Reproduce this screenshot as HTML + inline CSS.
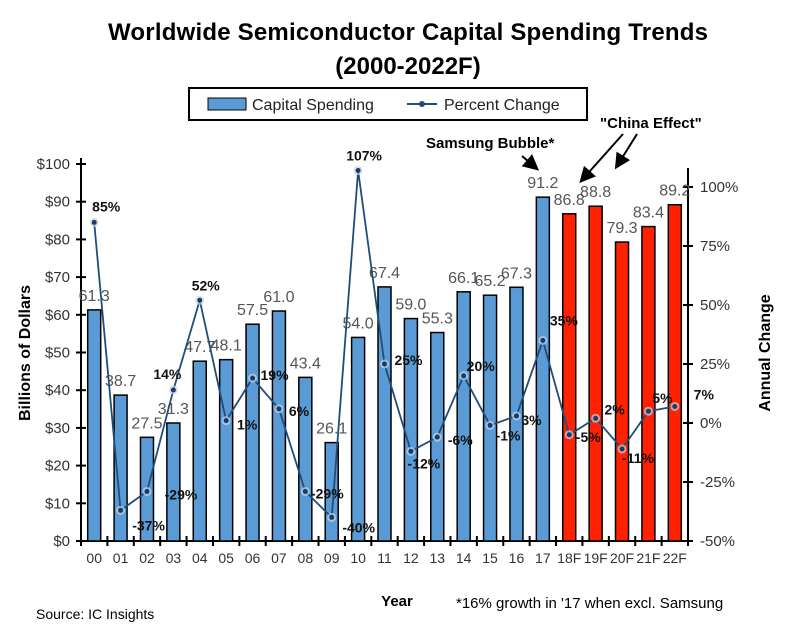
<!DOCTYPE html>
<html><head><meta charset="utf-8"><style>
body{margin:0;background:#fff;width:800px;height:634px;overflow:hidden}
svg text{font-family:"Liberation Sans",Arial,sans-serif}
</style></head><body>
<svg id="chart" width="800" height="634" xmlns="http://www.w3.org/2000/svg">
<defs><marker id="ah" markerWidth="8" markerHeight="8" refX="6" refY="4" orient="auto"><path d="M0,0 L8,4 L0,8 z" fill="#000"/></marker></defs>
<text x="408" y="40" text-anchor="middle" font-size="24" font-weight="bold" textLength="600">Worldwide Semiconductor Capital Spending Trends</text>
<text x="408" y="74" text-anchor="middle" font-size="24" font-weight="bold">(2000-2022F)</text>
<g>
<rect x="189" y="88" width="398" height="32" fill="#fff" stroke="#000" stroke-width="2"/>
<g><rect x="208" y="98" width="38" height="12" fill="#5b9bd5" stroke="#000"/><text x="252" y="110" font-size="16" fill="#222">Capital Spending</text></g>
<g><line x1="407" y1="104" x2="437" y2="104" stroke="#1f4e79" stroke-width="2"/><circle cx="422" cy="104" r="3" fill="#1f4e79"/><text x="444" y="110" font-size="16" fill="#222">Percent Change</text></g>
</g>
<text x="426" y="148" font-size="15" font-weight="bold">Samsung Bubble*</text>
<line x1="522" y1="156" x2="536" y2="168" stroke="#000" stroke-width="2" marker-end="url(#ah)"/>
<text x="600" y="128" font-size="15" font-weight="bold">"China Effect"</text>
<line x1="623" y1="134" x2="582" y2="180" stroke="#000" stroke-width="2" marker-end="url(#ah)"/>
<line x1="637" y1="134" x2="617" y2="166" stroke="#000" stroke-width="2" marker-end="url(#ah)"/>
<text transform="translate(30,353) rotate(-90)" text-anchor="middle" font-size="16" font-weight="bold">Billions of Dollars</text>
<text transform="translate(770,353) rotate(-90)" text-anchor="middle" font-size="16" font-weight="bold">Annual Change</text>
<text x="397" y="606" text-anchor="middle" font-size="15" font-weight="bold">Year</text>
<text x="456" y="608" font-size="15">*16% growth in '17 when excl. Samsung</text>
<text x="36" y="619" font-size="14">Source: IC Insights</text>
<g id="plot"></g>
</svg>
<script>
const categories=["00","01","02","03","04","05","06","07","08","09","10","11","12","13","14","15","16","17","18F","19F","20F","21F","22F"];
const spending=[61.3,38.7,27.5,31.3,47.7,48.1,57.5,61.0,43.4,26.1,54.0,67.4,59.0,55.3,66.1,65.2,67.3,91.2,86.8,88.8,79.3,83.4,89.2];
const pctChange=[85,-37,-29,14,52,1,19,6,-29,-40,107,25,-12,-6,20,-1,3,35,-5,2,-11,5,7];
const forecastFlags=[0,0,0,0,0,0,0,0,0,0,0,0,0,0,0,0,0,0,1,1,1,1,1];
const leftTicks=[0,10,20,30,40,50,60,70,80,90,100];
const rightTicks=[-50,-25,0,25,50,75,100];
const pctLabelDx=[12,28,34,-6,6,21,22,20,22,27,6,24,13,23,17,18,15,21,19,19,16,14,29];
const pctLabelDy=[-16,15,3,-16,-15,4,-3,2,2,10,-15,-4,12,3,-10,10,4,-20,2,-9,9,-13,-12];

const L=81,R=688,B=541,T=164;
const slot=(R-L)/categories.length;
const xC=i=>L+slot*(i+0.5);
const yL=v=>B-(v/100)*(B-T);
const yR=p=>B-((p+50)/150)*(B-187);
const g=document.getElementById('plot');
const NS='http://www.w3.org/2000/svg';
function mk(t,a){const e=document.createElementNS(NS,t);for(const k in a)e.setAttribute(k,a[k]);g.appendChild(e);return e;}

let e=mk('line',{x1:L,y1:T-6,x2:L,y2:B,stroke:'#000','stroke-width':2});


e=mk('line',{x1:R,y1:168,x2:R,y2:B,stroke:'#000','stroke-width':2});


e=mk('line',{x1:L,y1:B,x2:R,y2:B,stroke:'#000','stroke-width':2});


leftTicks.forEach(v=>{
  mk('line',{x1:L-5,y1:yL(v),x2:L+5,y2:yL(v),stroke:'#000','stroke-width':2});
  const t=mk('text',{x:L-11,y:yL(v)+5,'text-anchor':'end','font-size':15,fill:'#333'});
  t.textContent='$'+v;
  
  
});
rightTicks.forEach(v=>{
  mk('line',{x1:R-5,y1:yR(v),x2:R+5,y2:yR(v),stroke:'#000','stroke-width':2});
  const t=mk('text',{x:R+12,y:yR(v)+5,'font-size':15,fill:'#333'});
  t.textContent=v+'%';
  
  
});
for(let i=0;i<=categories.length;i++){mk('line',{x1:L+slot*i,y1:B-5,x2:L+slot*i,y2:B+5,stroke:'#000','stroke-width':2});}
categories.forEach((c,i)=>{
  const t=mk('text',{x:xC(i),y:B+22,'text-anchor':'middle','font-size':14,fill:'#333'});
  t.textContent=c;
  
  
});
spending.forEach((v,i)=>{
  const r=mk('rect',{x:xC(i)-6.5,y:yL(v),width:13,height:B-yL(v),fill:forecastFlags[i]?'#ff2200':'#5b9bd5',stroke:'#000','stroke-width':1.5});
  
  
  const t=mk('text',{x:xC(i),y:yL(v)-9,'text-anchor':'middle','font-size':16,fill:'#555'});
  t.textContent=v.toFixed(1);
  
  
});
const pts=pctChange.map((p,i)=>xC(i)+','+yR(p)).join(' ');
e=mk('polyline',{points:pts,fill:'none',stroke:'#1f4e79','stroke-width':1.8});


pctChange.forEach((p,i)=>{
  mk('circle',{cx:xC(i),cy:yR(p),r:4.5,fill:'#bcd6ee',opacity:0.7});
  const c=mk('circle',{cx:xC(i),cy:yR(p),r:2.5,fill:'#1f3a5f'});
  
  
  const t=mk('text',{x:xC(i)+pctLabelDx[i],y:yR(p)+pctLabelDy[i]+5,'text-anchor':'middle','font-size':14,'font-weight':'bold',fill:'#111'});
  t.textContent=p+'%';
  
  
});
</script>
</body></html>
